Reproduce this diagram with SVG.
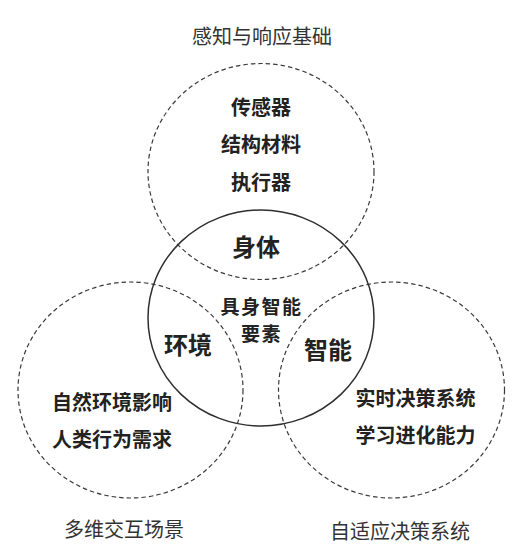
<svg xmlns="http://www.w3.org/2000/svg" width="530" height="550" viewBox="0 0 530 550">
<style>
.bg{fill:#ffffff}
.dash{fill:none;stroke:#3a3a3a;stroke-width:1.2;stroke-dasharray:4.5 3}
.solid{fill:none;stroke:#2e2e2e;stroke-width:1.5}
text{font-family:"Noto Sans CJK SC","Noto Sans",sans-serif;text-anchor:middle;dominant-baseline:central}
.item{font-size:20px;font-weight:bold;fill:#222}
.mid{font-size:19px;font-weight:bold;fill:#222;letter-spacing:1.5px}
.big{font-size:24px;font-weight:bold;fill:#222}
.title{font-size:20px;font-weight:normal;fill:#333}
</style>
<rect class="bg" x="0" y="0" width="530" height="550"/>
<g id="body">
<ellipse class="dash" cx="261" cy="171.5" rx="113" ry="108"/>
<text class="title" x="262" y="35">感知与响应基础</text>
<text class="item" x="261" y="106">传感器</text>
<text class="item" x="261" y="143.5">结构材料</text>
<text class="item" x="261" y="181">执行器</text>
</g>
<g id="environment">
<ellipse class="dash" cx="130.5" cy="390" rx="112.5" ry="108"/>
<text class="title" x="124" y="528">多维交互场景</text>
<text class="item" x="112" y="401">自然环境影响</text>
<text class="item" x="112" y="438.5">人类行为需求</text>
</g>
<g id="intelligence">
<ellipse class="dash" cx="391.5" cy="390" rx="113" ry="108"/>
<text class="title" x="400" y="530">自适应决策系统</text>
<text class="item" x="415.5" y="397">实时决策系统</text>
<text class="item" x="415.5" y="434">学习进化能力</text>
</g>
<g id="core">
<ellipse class="solid" cx="261" cy="318" rx="113" ry="108"/>
<text class="big" x="256" y="245.5">身体</text>
<text class="mid" x="261.5" y="305">具身智能</text>
<text class="mid" x="261.5" y="332">要素</text>
<text class="big" x="188" y="343.5">环境</text>
<text class="big" x="328" y="348.5">智能</text>
</g>
<g id="connectors"></g>
</svg>
